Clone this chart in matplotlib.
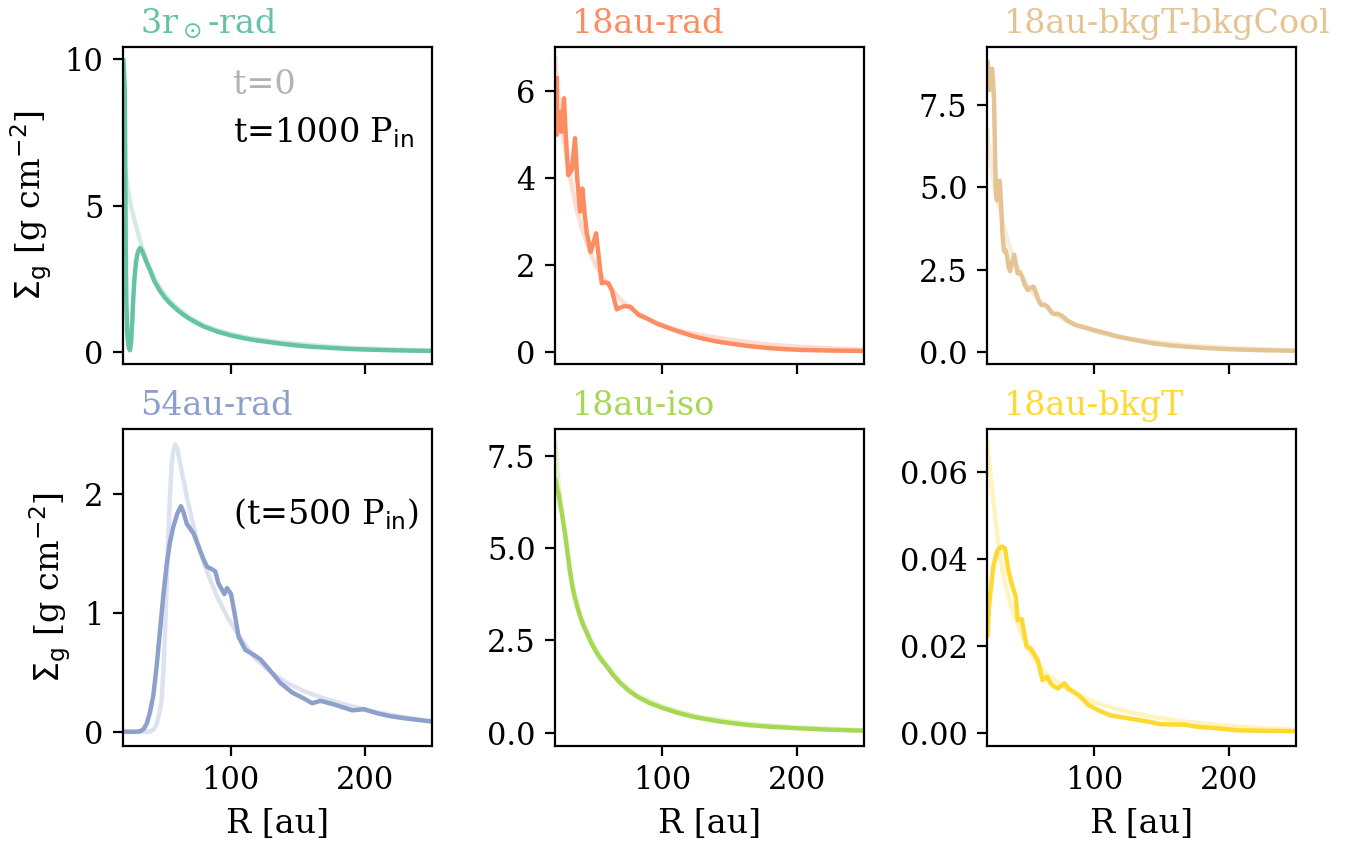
import numpy as np
import matplotlib
matplotlib.use("Agg")
import matplotlib.pyplot as plt

plt.rcParams['font.family'] = 'serif'
plt.rcParams['font.size'] = 11

# Set2 colours for the six runs
c_3rs = "#66c2a5"
c_18rad = "#fc8d62"
c_cool = "#e5c494"
c_54 = "#8da0cb"
c_iso = "#a6d854"
c_bkgt = "#ffd92f"

# initial profile shared by the radiative 18 au style discs
r_init = [20.3, 21, 22, 23, 24, 25, 26, 28, 30, 33, 36, 40, 45, 50, 55, 60,
          70, 80, 90, 100, 115, 130, 150, 175, 200, 225, 250]
sig_init = [6.75, 6.45, 6.07, 5.75, 5.45, 5.2, 4.95, 4.6, 4.25, 3.75, 3.3,
            2.85, 2.38, 2.02, 1.75, 1.52, 1.16, 0.92, 0.75, 0.62, 0.47, 0.38,
            0.28, 0.18, 0.12, 0.08, 0.05]

# 3 r_sun, radiative
r_3rs = [20.3, 21.3, 21.7, 22.0, 22.5, 23.2, 24.2, 25.2, 26.0, 26.8, 27.6,
         28.5, 29.5, 30.5, 31.5, 32.7, 34.0, 35.5, 37, 40, 43, 47, 51, 55,
         60, 65, 70, 75, 80, 90, 100, 110, 120, 130, 140, 150, 160, 175, 190,
         200, 220, 250]
sig_3rs = [9.95, 9.0, 6.0, 3.5, 1.6, 0.6, 0.15, 0.06, 0.35, 1.0, 1.8, 2.5,
           3.0, 3.3, 3.47, 3.55, 3.47, 3.3, 3.12, 2.8, 2.45, 2.12, 1.86, 1.66,
           1.45, 1.27, 1.12, 0.99, 0.87, 0.7, 0.57, 0.47, 0.39, 0.33, 0.27,
           0.22, 0.18, 0.14, 0.1, 0.085, 0.06, 0.035]

# 18 au, radiative
r_18rad = [21.3, 21.4, 23.7, 25.0, 26.7, 28.0, 29.9, 32.5, 34.9, 36.5, 38.7,
           40.4, 42, 43.7, 46.6, 48.5, 50.6, 52.5, 54.8, 57, 59.8, 62.3, 64.5,
           66.0, 68.5, 71.5, 76.0, 82.2, 88.4, 95.9, 102, 108, 115, 121, 128,
           140, 153, 165, 178, 190, 203, 225, 250]
sig_18rad = [6.3, 5.0, 5.53, 5.07, 5.84, 5.0, 4.07, 4.19, 4.92, 4.0, 3.23,
             3.76, 3.2, 2.73, 2.30, 2.5, 2.73, 2.2, 1.58, 1.6, 1.58, 1.42,
             1.15, 0.98, 1.02, 1.05, 1.04, 0.85, 0.77, 0.65, 0.58, 0.51, 0.44,
             0.38, 0.32, 0.24, 0.18, 0.13, 0.09, 0.065, 0.045, 0.03, 0.02]

# 18 au, background temperature with background cooling
r_cool = [20.5, 21.2, 22.0, 22.8, 23.8, 24.6, 25.3, 26.0, 26.7, 27.5, 28.5,
          29.5, 30.5, 31.5, 32.7, 33.8, 34.8, 36.0, 37.2, 38.8, 40.2, 41.5,
          42.9, 44.5, 46.0, 48.0, 50.2, 52.5, 54.6, 56.5, 58.5, 60.5, 63.0,
          65.0, 67.5, 69.5, 72.5, 75.5, 80, 85.5, 93, 100, 110, 118, 130, 142,
          155, 170, 185, 200, 225, 250]
sig_cool = [8.8, 8.5, 7.95, 8.3, 8.6, 8.2, 7.6, 6.0, 4.75, 4.6, 5.1, 5.2,
            4.5, 3.6, 3.05, 3.1, 2.95, 2.6, 2.45, 2.75, 2.95, 2.65, 2.38,
            2.42, 2.3, 2.05, 1.88, 1.95, 1.98, 1.8, 1.55, 1.42, 1.43, 1.38,
            1.22, 1.15, 1.16, 1.1, 0.95, 0.82, 0.74, 0.66, 0.55, 0.46, 0.36,
            0.27, 0.2, 0.15, 0.11, 0.08, 0.05, 0.03]

# 54 au, radiative (shown at t=500 P_in)
r_54_init = [20.2, 40.1, 43, 45.1, 47, 48.9, 50.2, 51.3, 52.5, 53.8, 55,
             56.3, 57.5, 58.8, 60.5, 62.5, 65, 67.5, 71, 75, 80, 84.9, 90,
             97.4, 105, 117.2, 130, 142.2, 155, 167, 185, 201.9, 225, 251.6]
sig_54_init = [0.0, 0.0, 0.02, 0.07, 0.15, 0.29, 0.55, 0.86, 1.25, 1.70, 2.0,
               2.26, 2.37, 2.42, 2.38, 2.26, 2.12, 1.98, 1.8, 1.61, 1.43,
               1.28, 1.14, 0.97, 0.83, 0.63, 0.5, 0.41, 0.34, 0.29, 0.23,
               0.18, 0.13, 0.085]
r_54 = [20.2, 31.0, 33.5, 35.5, 37.7, 40, 42.6, 45, 47.6, 50, 52.6, 55, 57.5,
        60.5, 63.1, 65, 67.5, 72.5, 76.2, 80, 82.5, 86, 88.7, 91, 95.4, 97.4,
        100.4, 103, 106, 111, 117, 122.2, 128.4, 137.2, 145.9, 154.6, 160.8,
        167, 177, 190.7, 199.3, 209.3, 219.3, 231.7, 250.4]
sig_54 = [0.0, 0.0, 0.008, 0.025, 0.07, 0.16, 0.31, 0.55, 0.86, 1.15, 1.42,
          1.6, 1.73, 1.84, 1.90, 1.85, 1.75, 1.67, 1.56, 1.45, 1.39, 1.37,
          1.35, 1.25, 1.16, 1.21, 1.16, 1.0, 0.80, 0.69, 0.65, 0.61, 0.53,
          0.41, 0.33, 0.28, 0.24, 0.26, 0.23, 0.18, 0.19, 0.155, 0.13, 0.11,
          0.085]

# 18 au, locally isothermal
r_iso_init = [20.3, 21, 22, 23, 24, 25, 26.2, 28.7, 31.2, 34.9, 38.7, 43.7,
              51.1, 58.6, 68.5, 81, 100.8, 125.7, 163, 200.4, 248.9]
sig_iso_init = [7.84, 7.5, 7.05, 6.65, 6.3, 6.0, 5.72, 5.1, 4.4, 3.68, 3.2,
                2.75, 2.2, 1.83, 1.38, 1.02, 0.7, 0.44, 0.24, 0.14, 0.07]
r_iso = [20.3, 21.0, 21.7, 22.7, 23.7, 25.0, 26.2, 27.5, 28.7, 30.0, 31.2,
         33.0, 34.9, 36.8, 38.7, 41.0, 43.7, 47.0, 51.1, 54.8, 58.6, 63.5,
         68.5, 74.5, 81, 90, 100.8, 112, 125.7, 143, 163, 180, 200.4, 225,
         248.9]
sig_iso = [6.85, 6.75, 6.6, 6.45, 6.23, 5.98, 5.69, 5.38, 5.05, 4.68, 4.36,
           3.95, 3.64, 3.38, 3.15, 2.92, 2.70, 2.43, 2.16, 1.96, 1.79, 1.55,
           1.35, 1.15, 0.98, 0.81, 0.66, 0.53, 0.41, 0.30, 0.21, 0.16, 0.12,
           0.08, 0.055]

# 18 au, background temperature
r_bkgt_init = [20.3, 22, 24, 25.9, 28, 29.7, 32.5, 35.9, 39.5, 43.4, 49,
               55.8, 65, 80.7, 100, 120, 142, 170, 200, 225, 250]
sig_bkgt_init = [0.0665, 0.061, 0.055, 0.0504, 0.0445, 0.0405, 0.036, 0.0313,
                 0.0275, 0.0244, 0.0203, 0.0167, 0.0134, 0.0098, 0.0070,
                 0.0052, 0.0037, 0.0025, 0.0016, 0.0011, 0.0008]
r_bkgt = [20.5, 21.5, 23, 24.7, 26.5, 28, 31, 33.4, 35.9, 38.4, 41.4, 42.9,
          45.9, 49.6, 52.6, 57.8, 61.3, 64.6, 68.3, 72.8, 77.7, 80.7, 88.1,
          95.6, 103.1, 112, 120.5, 128, 141.6, 149, 166.5, 176.5, 193.9,
          206.3, 223.7, 250]
sig_bkgt = [0.0225, 0.029, 0.0335, 0.0382, 0.0405, 0.042, 0.0428, 0.0424,
            0.0374, 0.0343, 0.0313, 0.0259, 0.0261, 0.0198, 0.0194, 0.0167,
            0.0121, 0.0129, 0.011, 0.0102, 0.0114, 0.0102, 0.0087, 0.0064,
            0.0052, 0.0040, 0.0036, 0.0032, 0.0025, 0.0020, 0.0019, 0.0014,
            0.001, 0.0006, 0.0005, 0.0004]

panels = [
    (r'3r$_\odot$-rad', c_3rs, r_init, sig_init, r_3rs, sig_3rs,
     (-0.41, 10.41), [0, 5, 10]),
    ('18au-rad', c_18rad, r_init, sig_init, r_18rad, sig_18rad,
     (-0.28, 7.02), [0, 2, 4, 6]),
    ('18au-bkgT-bkgCool', c_cool, r_init, sig_init, r_cool, sig_cool,
     (-0.37, 9.26), [0, 2.5, 5.0, 7.5]),
    ('54au-rad', c_54, r_54_init, sig_54_init, r_54, sig_54,
     (-0.12, 2.55), [0, 1, 2]),
    ('18au-iso', c_iso, r_iso_init, sig_iso_init, r_iso, sig_iso,
     (-0.36, 8.23), [0, 2.5, 5.0, 7.5]),
    ('18au-bkgT', c_bkgt, r_bkgt_init, sig_bkgt_init, r_bkgt, sig_bkgt,
     (-0.003, 0.0698), [0, 0.02, 0.04, 0.06]),
]

fig, axes = plt.subplots(2, 3, figsize=(6.79, 4.215), dpi=200, sharex=True)
fig.subplots_adjust(left=0.0906, right=0.9543, top=0.9442, bottom=0.1151,
                    wspace=0.398, hspace=0.205)

for ax, (name, col, r0, s0, r1, s1, ylim, yt) in zip(axes.flat, panels):
    ax.plot(r0, s0, color=col, lw=1.6, alpha=0.3)
    ax.plot(r1, s1, color=col, lw=1.6)
    ax.set_xlim(20, 250)
    ax.set_ylim(*ylim)
    ax.set_yticks(yt)
    ax.set_xticks([100, 200])
    ax.set_title(name, loc='left', x=0.055, color=col, fontsize=12, pad=5)

axes[1, 2].set_yticklabels(['0.00', '0.02', '0.04', '0.06'])
axes[0, 2].set_yticklabels(['0.0', '2.5', '5.0', '7.5'])
axes[1, 1].set_yticklabels(['0.0', '2.5', '5.0', '7.5'])

for ax in axes[:, 0]:
    ax.set_ylabel(r'$\Sigma_{\rm g}$ [g cm$^{-2}$]', fontsize=12)
for ax in axes[1, :]:
    ax.set_xlabel('R [au]', fontsize=12)

axes[0, 0].text(0.355, 0.88, 't=0', color='#b3b3b3', fontsize=12,
                transform=axes[0, 0].transAxes, va='center')
axes[0, 0].text(0.355, 0.73, r't=1000 P$_{\rm in}$', color='k', fontsize=12,
                transform=axes[0, 0].transAxes, va='center')
axes[1, 0].text(0.356, 0.732, r'(t=500 P$_{\rm in}$)', color='k',
                fontsize=12, transform=axes[1, 0].transAxes, va='center')

fig.savefig('out.png', dpi=200)
